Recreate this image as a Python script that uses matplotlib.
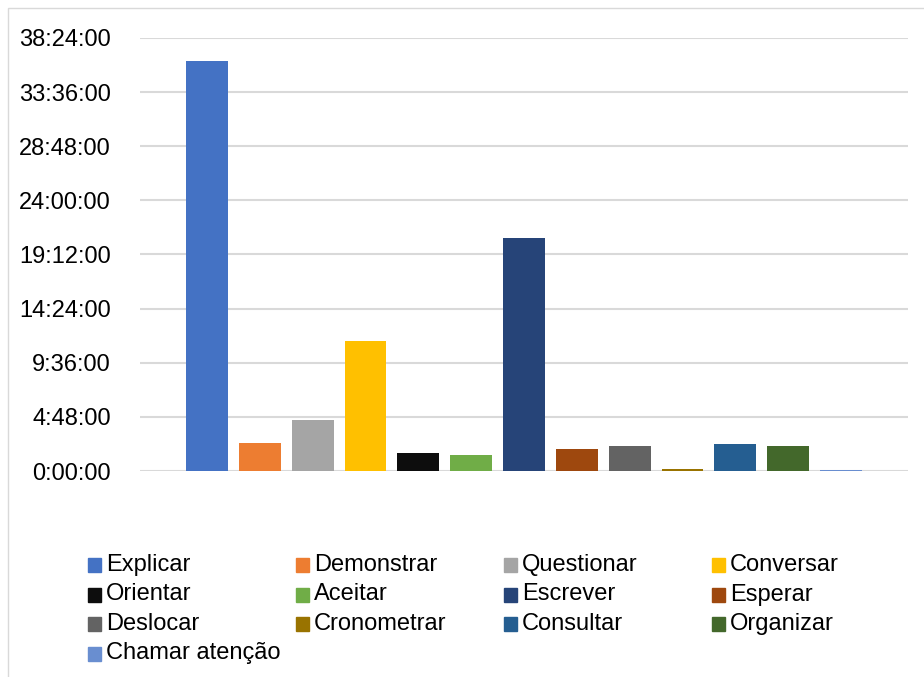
import matplotlib
matplotlib.use("Agg")
import matplotlib.pyplot as plt
from matplotlib.patches import Rectangle
from matplotlib.ticker import FixedLocator, FuncFormatter

plt.rcParams['font.family'] = ['Liberation Sans', 'DejaVu Sans']

# tempo total por categoria (horas)
categorias = ['Explicar', 'Demonstrar', 'Questionar', 'Conversar',
              'Orientar', 'Aceitar', 'Escrever', 'Esperar',
              'Deslocar', 'Cronometrar', 'Consultar', 'Organizar',
              'Chamar atenção']
horas = [36.4, 2.5, 4.5, 11.5, 1.6, 1.4, 20.7, 1.95, 2.2, 0.18, 2.4, 2.2, 0.09]
cores = ['#4472C4', '#ED7D31', '#A5A5A5', '#FFC000',
         '#0D0D0D', '#70AD47', '#264478', '#9E480E',
         '#636363', '#997300', '#255E91', '#43682B',
         '#698ED0']

segundos = [h * 3600 for h in horas]
passo = 4 * 3600 + 48 * 60
ticks = [i * passo for i in range(9)]


def hms(v, pos=None):
    v = int(round(v))
    return f"{v // 3600}:{(v % 3600) // 60:02d}:{v % 60:02d}"


W, H = 924, 677
fig = plt.figure(figsize=(W / 100, H / 100), dpi=100)

# moldura do gráfico
fig.patches.append(Rectangle((8 / W, -0.1), 1.2, 1 - 8 / H + 0.1,
                             transform=fig.transFigure, fill=False,
                             edgecolor='#D9D9D9', linewidth=1))

ax = fig.add_axes([140 / W, 1 - 471 / H, 768 / W, 433 / H])
x = list(range(len(categorias)))
ax.bar(x, segundos, width=0.79, color=cores, zorder=3)

ax.set_ylim(0, ticks[-1])
ax.set_xlim(-1.27, len(categorias) - 1 + 1.27)
ax.yaxis.set_major_locator(FixedLocator(ticks))
ax.yaxis.set_major_formatter(FuncFormatter(hms))
ax.set_xticks([])
ax.tick_params(axis='y', length=0, pad=21, labelsize=17)
ax.grid(axis='y', color='#D9D9D9', linewidth=1.5, zorder=0)
for s in ax.spines.values():
    s.set_visible(False)

# legenda em 4 colunas
for i, (nome, cor) in enumerate(zip(categorias, cores)):
    lin, col = divmod(i, 4)
    px = 88 + col * 208
    py = 565 + lin * 29.5
    fig.patches.append(Rectangle((px / W, 1 - (py + 7) / H), 13 / W, 14 / H,
                                 transform=fig.transFigure, color=cor))
    fig.text((px + 18) / W, 1 - py / H, nome, fontsize=17,
             va='center', ha='left')

fig.savefig('out.png', dpi=100)
